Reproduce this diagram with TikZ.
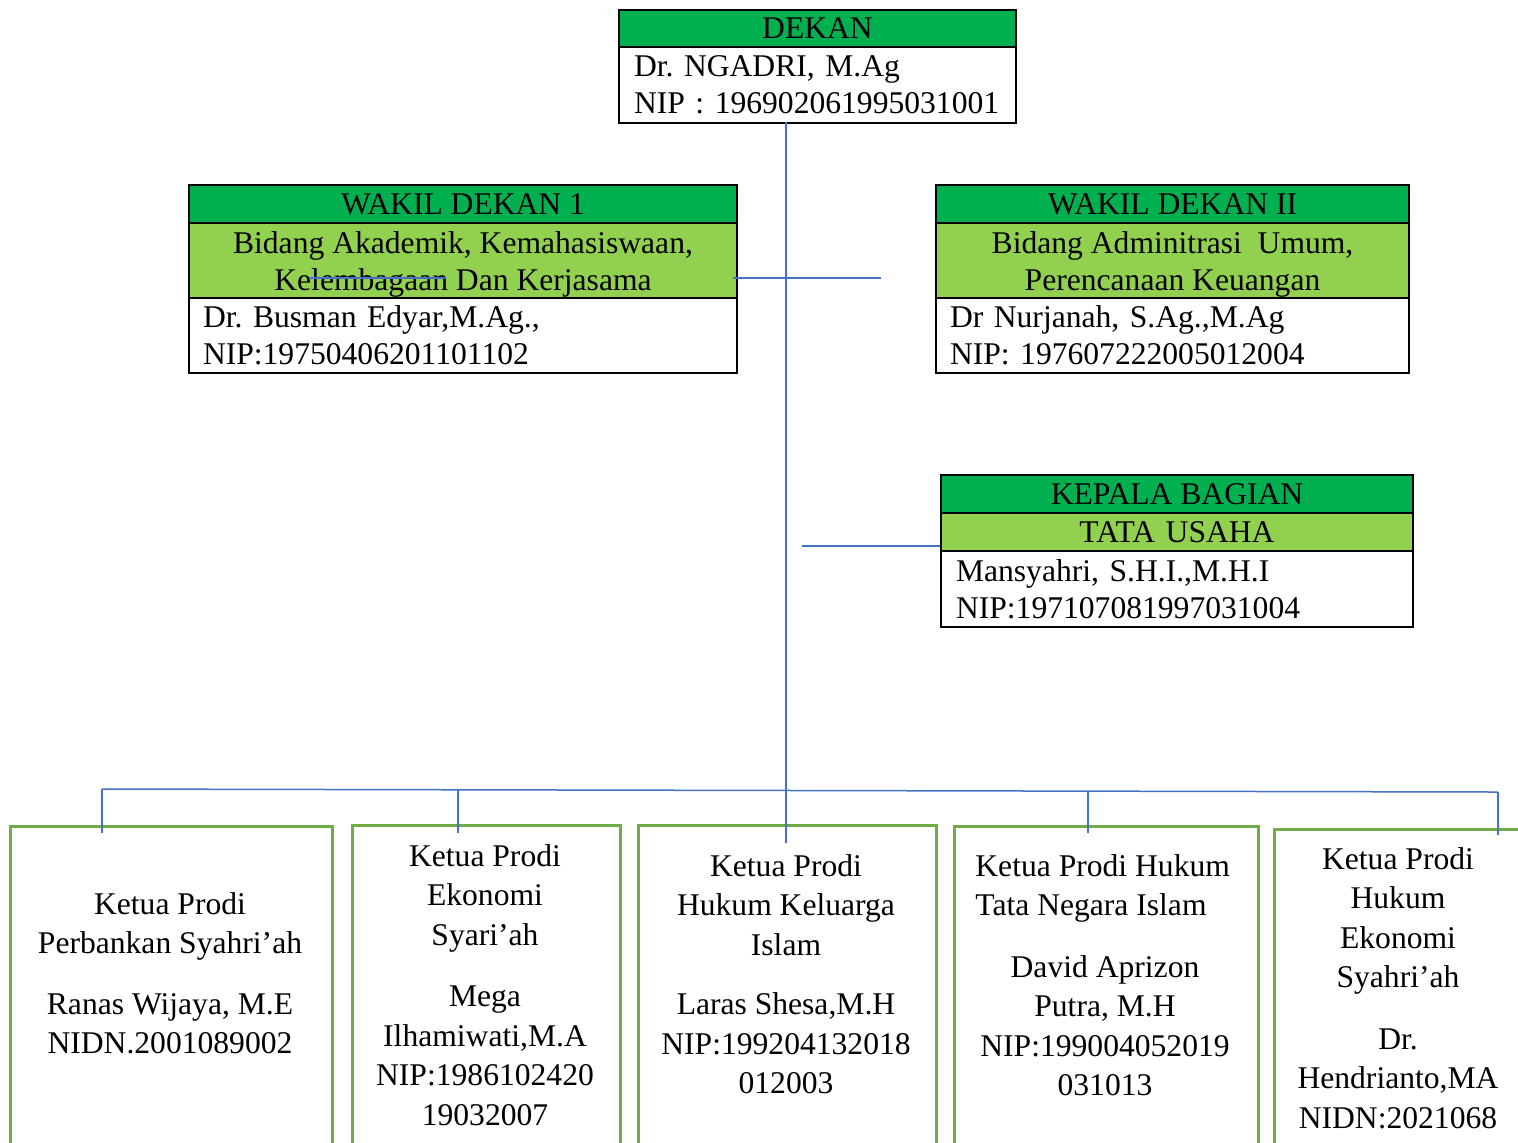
\documentclass[tikz,border=0pt]{standalone}
\usepackage{fontspec}
\setmainfont{Liberation Serif}
\frenchspacing
\definecolor{hdrgreen}{HTML}{00B050}
\definecolor{subgreen}{HTML}{92D050}
\definecolor{prodigreen}{HTML}{70AD47}
\definecolor{linkblue}{HTML}{4472C4}
\begin{document}
\begin{tikzpicture}[x=0.5pt,y=-0.5pt,
  every node/.style={font=\frenchspacing\fontsize{15.8}{18.5}\selectfont, inner sep=0pt},
  sect/.style={draw=black, line width=1pt, anchor=north west, rectangle},
  hdrbox/.style={sect, fill=hdrgreen},
  subbox/.style={sect, fill=subgreen, align=center},
  subtext/.style={align=center},
  bodybox/.style={sect, fill=white, align=left},
  prodibox/.style={draw=prodigreen, line width=1.5pt, anchor=north west, rectangle, minimum height=170pt},
  ptext/.style={align=center, anchor=north, font=\frenchspacing\fontsize{15.8}{19.75}\selectfont},
  link/.style={draw=linkblue, line width=0.75pt}]
\useasboundingbox (0,0) rectangle (1518,1142);
\clip (0,0) rectangle (1518,1142);

% DEKAN
\node[hdrbox, minimum width=198.5pt, minimum height=18.5pt] (dekH) at (618,9) {DEKAN};
\node[bodybox, text width=183.5pt, inner xsep=7.5pt, minimum width=198.5pt, minimum height=38pt] (dekB) at (618,46)
  {Dr. NGADRI, M.Ag\\NIP : 196902061995031001};

% WAKIL DEKAN 1
\node[hdrbox, minimum width=274pt, minimum height=19pt] (wd1H) at (188,184) {WAKIL DEKAN 1};
\node[subbox, minimum width=274pt, minimum height=37.5pt] (wd1S) at (188,222) {};
\node[subtext] (wd1St) at ([yshift=-2pt]wd1S.center)
  {Bidang Akademik, Kemahasiswaan,\\Kelembagaan Dan Kerjasama};
\node[bodybox, text width=260pt, inner xsep=7pt, minimum height=37.5pt] (wd1B) at (188,297)
  {Dr. Busman Edyar,M.Ag.,\\NIP:19750406201101102};

% WAKIL DEKAN II
\node[hdrbox, minimum width=236.5pt, minimum height=19pt] (wd2H) at (935,184) {WAKIL DEKAN II};
\node[subbox, minimum width=236.5pt, minimum height=37.5pt] (wd2S) at (935,222) {};
\node[subtext] (wd2St) at ([yshift=-2pt]wd2S.center)
  {Bidang Adminitrasi\ \ Umum,\\Perencanaan Keuangan};
\node[bodybox, text width=222.5pt, inner xsep=7pt, minimum height=37.5pt] (wd2B) at (935,297)
  {Dr Nurjanah, S.Ag.,M.Ag\\NIP: 197607222005012004};

% KEPALA BAGIAN
\node[hdrbox, minimum width=236pt, minimum height=19pt] (kbH) at (940,474) {KEPALA BAGIAN};
\node[subbox, text width=236pt, minimum height=19pt] (kbS) at (940,512) {TATA USAHA};
\node[bodybox, text width=221pt, inner xsep=7.5pt, minimum height=38pt] (kbB) at (940,550)
  {Mansyahri, S.H.I.,M.H.I\\NIP:197107081997031004};

% Prodi boxes
\node[prodibox, minimum width=161pt] (p1) at (9,825) {};
\node[prodibox, minimum width=134pt] (p2) at (351,824) {};
\node[prodibox, minimum width=149pt] (p3) at (637,824) {};
\node[prodibox, minimum width=152pt] (p4) at (953,825) {};
\node[prodibox, minimum width=128.5pt] (p5) at (1273,828) {};

\node[ptext] (t1) at (170,892)
  {Ketua Prodi\\Perbankan Syahri’ah\\[10.5pt]Ranas Wijaya, M.E\\NIDN.2001089002};
\node[ptext] (t2) at (485,844)
  {Ketua Prodi\\Ekonomi\\Syari’ah\\[11pt]Mega\\Ilhamiwati,M.A\\NIP:1986102420\\19032007};
\node[ptext] (t3) at (786,854)
  {Ketua Prodi\\Hukum Keluarga\\Islam\\[10pt]Laras Shesa,M.H\\NIP:199204132018\\012003};
\node[ptext, align=left, anchor=north west] (t4a) at (975,854)
  {Ketua Prodi Hukum\\Tata Negara Islam};
\node[ptext] (t4b) at (1105,955)
  {David Aprizon\\Putra, M.H\\NIP:199004052019\\031013};
\node[ptext] (t5) at (1398,847)
  {Ketua Prodi\\Hukum\\Ekonomi\\Syahri’ah\\[11pt]Dr.\\Hendrianto,MA\\NIDN:2021068};

% Connectors
\coordinate (vtop) at (786,122);
\coordinate (vbot) at (786,843);
\draw[link] (vtop) -- (vbot);
\coordinate (wl) at (733,278);
\coordinate (wr) at (881,278);
\draw[link] (wl) -- (wr);
\coordinate (sl) at (310,278);
\coordinate (sr) at (445,278);
\draw[link] (sl) -- (sr);
\coordinate (kl) at (802,546);
\draw[link] (kl) -- (kl -| kbS.west);
\coordinate (bL) at (102,789);
\coordinate (bR) at (1498,792);
\draw[link] (bL) -- (bR);
\coordinate (d1) at (102,833);
\coordinate (d2t) at (458,790);
\coordinate (d2) at (458,833);
\coordinate (d4t) at (1088,791);
\coordinate (d4) at (1088,833);
\coordinate (d5) at (1498,835);
\draw[link] (bL) -- (d1);
\draw[link] (d2t) -- (d2);
\draw[link] (d4t) -- (d4);
\draw[link] (bR) -- (d5);
\end{tikzpicture}
\end{document}
